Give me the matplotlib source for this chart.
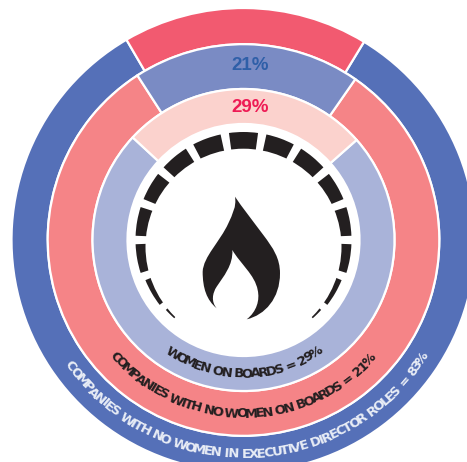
import numpy as np
import matplotlib
matplotlib.use('Agg')
import matplotlib.pyplot as plt
from matplotlib.patches import Wedge, Circle, PathPatch
from matplotlib.path import Path
from matplotlib.font_manager import FontProperties
from matplotlib.textpath import text_to_path

# angles are degrees clockwise from 12 o'clock
outer_highlight = (-30.3, 31.3)
middle_highlight = (-32.8, 34.8)
inner_highlight = (-47.2, 48.5)

outer_label = 'COMPANIES WITH NO WOMEN IN EXECUTIVE DIRECTOR ROLES = 83%'
middle_label = 'COMPANIES WITH NO WOMEN ON BOARDS = 21%'
inner_label = 'WOMEN ON BOARDS = 29%'
middle_value = '21%'
inner_value = '29%'

gauge_centres = [-135.25, -120, -100, -80, -60, -40, -20, 0, 20, 40, 60, 80, 100, 120, 135.25]
gauge_half = [3.25, 7.75, 7.75, 7.75, 7.75, 7.75, 7.75, 7.75, 7.75, 7.75, 7.75, 7.75, 7.75, 7.75, 3.25]
gauge_outer = [104.5, 106, 108, 108, 108, 108, 108, 108, 108, 108, 108, 108, 108, 106, 104.5]

CX, CY = 243.5, 222
W, H = 467, 462
DARK = '#231f20'

fig = plt.figure(figsize=(W / 100, H / 100), dpi=100)
ax = fig.add_axes([0, 0, 1, 1])
ax.set_xlim(0, W)
ax.set_ylim(0, H)
ax.axis('off')


def ring(r_out, r_in, span, main, highlight):
    a, b = span
    ax.add_patch(Wedge((CX, CY), r_out, 90 - a, 90 - b, width=r_out - r_in,
                       fc=main, ec='white', lw=1.6))
    ax.add_patch(Wedge((CX, CY), r_out, 90 - b, 90 - a, width=r_out - r_in,
                       fc=highlight, ec='white', lw=1.6))


def curved(s, r, start, end, size, color, family='Liberation Sans Narrow'):
    # one text per letter, spaced along the arc by the font's own widths
    prop = FontProperties(family=family, weight='bold', size=size)
    widths = []
    for c in s:
        if c == ' ':
            widths.append(size * 0.42)
        else:
            widths.append(text_to_path.get_text_width_height_descent(c, prop, False)[0])
    edges = np.cumsum([0] + widths)
    for i, c in enumerate(s):
        if c == ' ':
            continue
        pos = (edges[i] + edges[i + 1]) / 2
        a = start + (end - start) * pos / edges[-1]
        x = CX + r * np.sin(np.radians(a))
        y = CY - r * np.cos(np.radians(a))
        ax.text(x, y, c, fontproperties=prop, color=color, ha='center',
                va='baseline', rotation=a, rotation_mode='anchor')


ring(232, 195.8, outer_highlight, '#5570b8', '#f25a70')
ring(195.8, 151, middle_highlight, '#f58487', '#7a8bc4')
ring(151, 116, inner_highlight, '#a9b3d9', '#fbd2cd')

# gauge dashes, the inner edge comes from an off-centre white disc
for c, h, r in zip(gauge_centres, gauge_half, gauge_outer):
    ax.add_patch(Wedge((CX, CY), r, 90 - c - h, 90 - c + h, fc=DARK, ec='none'))
ax.add_patch(Circle((CX, CY - 6.7), 98, fc='white', ec='none'))

# flame, traced in pixels
def fl(x, y):
    return 125 + x / 3, H - (125 + y / 3)

flame = [(330, 215),
         (350, 245), (385, 290), (415, 330),
         (445, 370), (465, 400), (465, 445),
         (465, 520), (420, 570), (365, 583),
         (395, 560), (405, 525), (398, 495),
         (390, 450), (345, 415), (322, 375),
         (325, 420), (295, 455), (275, 485),
         (262, 505), (258, 530), (275, 550),
         (245, 525), (233, 490), (233, 440),
         (235, 395), (285, 350), (310, 295),
         (322, 268), (335, 245), (330, 215)]
codes = [Path.MOVETO] + [Path.CURVE4] * (len(flame) - 1)
ax.add_patch(PathPatch(Path([fl(*p) for p in flame], codes), fc=DARK, ec='none'))

curved(outer_label, 218, -55, 58, 9.5, '#e9edf6')
curved(middle_label, 177.5, -49, 48, 9.5, DARK)
curved(inner_label, 137.5, -34.5, 35, 9.5, DARK)

ax.text(250, H - 65, middle_value, color='#2f5fa8', fontsize=13.5, fontweight='bold',
        family='Liberation Sans', ha='center', va='center')
ax.text(250, H - 108, inner_value, color='#ee1b55', fontsize=13.5, fontweight='bold',
        family='Liberation Sans', ha='center', va='center')

fig.savefig('out.png', dpi=100)
